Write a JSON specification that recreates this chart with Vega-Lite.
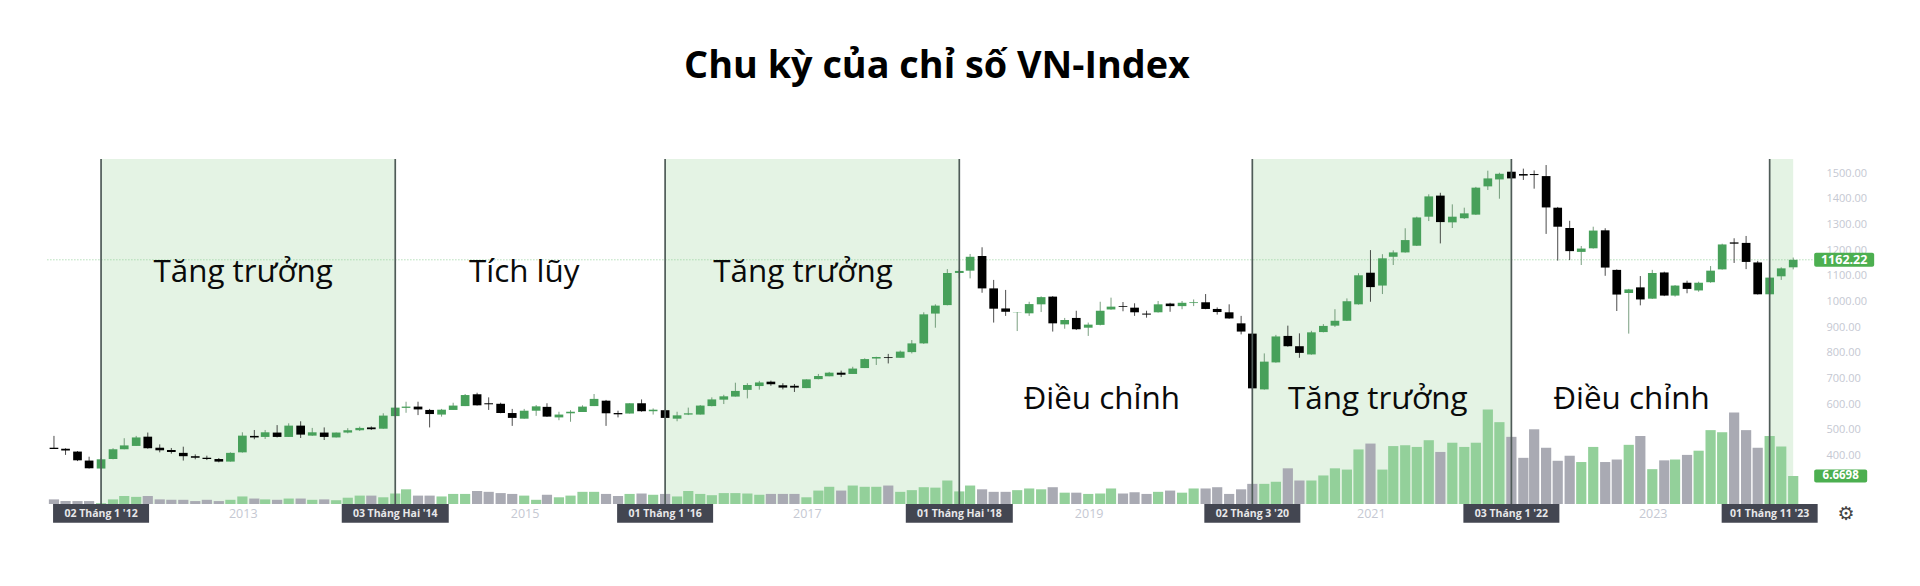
{
"$schema":"https://vega.github.io/schema/vega-lite/v6.json",
"width":1751.6,"height":345,
"autosize":{"type":"none"},
"padding":{"left":47.4,"top":159,"right":121,"bottom":82},
"background":"white",
"title":{"text":"Chu kỳ của chỉ số VN-Index","font":"Open Sans","fontWeight":"bold","fontSize":37.8,"color":"#000000","anchor":"middle","dx":13.8,"offset":72,"frame":"group"},
"config":{"view":{"stroke":null},"axisY":{"orient":"right","format":".2f","labelPadding":27,"labelAlign":"left","labelColor":"#c5c8d2","labelFont":"Open Sans","labelFontSize":11,"labelOverlap":false,"labelFlush":false,"domain":false,"ticks":false,"grid":false,"title":null}},
"datasets":{
"phases":[{"d":"2012-01-01","e":"2014-02-01"},{"d":"2016-01-01","e":"2018-02-01"},{"d":"2020-03-01","e":"2022-01-01"},{"d":"2023-11-01","e":"2024-01-01"}],
"events":[{"d":"2012-01-01","t":"02 Tháng 1 '12"},{"d":"2014-02-01","t":"03 Tháng Hai '14"},{"d":"2016-01-01","t":"01 Tháng 1 '16"},{"d":"2018-02-01","t":"01 Tháng Hai '18"},{"d":"2020-03-01","t":"02 Tháng 3 '20"},{"d":"2022-01-01","t":"03 Tháng 1 '22"},{"d":"2023-11-01","t":"01 Tháng 11 '23"}],
"notes":[{"d":"2013-01-03","p":1112,"t":"Tăng trưởng"},{"d":"2015-01-01","p":1112,"t":"Tích lũy"},{"d":"2016-12-23","p":1112,"t":"Tăng trưởng"},{"d":"2019-02-05","p":618,"t":"Điều chỉnh"},{"d":"2021-01-20","p":618,"t":"Tăng trưởng"},{"d":"2022-11-08","p":618,"t":"Điều chỉnh"}],
"candles":[
{"d":"2011-09-01","o":431,"h":477,"l":426,"c":426,"v":1.1},
{"d":"2011-10-01","o":427,"h":429,"l":403,"c":420,"v":0.7},
{"d":"2011-11-01","o":416,"h":418,"l":379,"c":382,"v":0.7},
{"d":"2011-12-01","o":381,"h":396,"l":350,"c":351,"v":0.7},
{"d":"2012-01-01","o":350,"h":390,"l":347,"c":386,"v":0.2},
{"d":"2012-02-01","o":387,"h":429,"l":386,"c":425,"v":1.1},
{"d":"2012-03-01","o":425,"h":468,"l":425,"c":440,"v":1.9},
{"d":"2012-04-01","o":438,"h":477,"l":438,"c":471,"v":1.7},
{"d":"2012-05-01","o":474,"h":490,"l":427,"c":429,"v":1.9},
{"d":"2012-06-01","o":431,"h":444,"l":413,"c":421,"v":1.1},
{"d":"2012-07-01","o":422,"h":430,"l":408,"c":414,"v":1.0},
{"d":"2012-08-01","o":411,"h":435,"l":381,"c":398,"v":1.0},
{"d":"2012-09-01","o":398,"h":405,"l":386,"c":392,"v":0.7},
{"d":"2012-10-01","o":392,"h":400,"l":383,"c":387,"v":1.0},
{"d":"2012-11-01","o":387,"h":391,"l":374,"c":377,"v":0.7},
{"d":"2012-12-01","o":377,"h":413,"l":377,"c":411,"v":1.0},
{"d":"2013-01-01","o":413,"h":491,"l":412,"c":478,"v":1.8},
{"d":"2013-02-01","o":477,"h":500,"l":464,"c":471,"v":1.3},
{"d":"2013-03-01","o":473,"h":500,"l":465,"c":491,"v":1.1},
{"d":"2013-04-01","o":490,"h":519,"l":471,"c":473,"v":1.0},
{"d":"2013-05-01","o":473,"h":526,"l":473,"c":517,"v":1.3},
{"d":"2013-06-01","o":517,"h":534,"l":469,"c":482,"v":1.3},
{"d":"2013-07-01","o":478,"h":508,"l":477,"c":491,"v":1.0},
{"d":"2013-08-01","o":490,"h":510,"l":461,"c":473,"v":1.1},
{"d":"2013-09-01","o":471,"h":490,"l":471,"c":490,"v":0.9},
{"d":"2013-10-01","o":490,"h":507,"l":487,"c":499,"v":1.5},
{"d":"2013-11-01","o":499,"h":513,"l":496,"c":508,"v":2.0},
{"d":"2013-12-01","o":510,"h":514,"l":500,"c":503,"v":2.0},
{"d":"2014-01-01","o":505,"h":565,"l":505,"c":556,"v":1.6},
{"d":"2014-02-01","o":554,"h":591,"l":552,"c":587,"v":2.5},
{"d":"2014-03-01","o":586,"h":610,"l":567,"c":591,"v":3.5},
{"d":"2014-04-01","o":591,"h":610,"l":558,"c":580,"v":2.0},
{"d":"2014-05-01","o":578,"h":582,"l":510,"c":562,"v":2.0},
{"d":"2014-06-01","o":560,"h":582,"l":552,"c":579,"v":1.8},
{"d":"2014-07-01","o":578,"h":606,"l":578,"c":595,"v":2.4},
{"d":"2014-08-01","o":593,"h":640,"l":593,"c":636,"v":2.4},
{"d":"2014-09-01","o":639,"h":645,"l":595,"c":596,"v":3.1},
{"d":"2014-10-01","o":604,"h":627,"l":578,"c":600,"v":2.9},
{"d":"2014-11-01","o":602,"h":606,"l":565,"c":566,"v":2.6},
{"d":"2014-12-01","o":566,"h":582,"l":516,"c":547,"v":2.4},
{"d":"2015-01-01","o":544,"h":582,"l":544,"c":575,"v":2.0},
{"d":"2015-02-01","o":575,"h":597,"l":555,"c":592,"v":1.0},
{"d":"2015-03-01","o":590,"h":604,"l":551,"c":552,"v":2.2},
{"d":"2015-04-01","o":549,"h":571,"l":538,"c":560,"v":1.6},
{"d":"2015-05-01","o":565,"h":577,"l":532,"c":571,"v":2.0},
{"d":"2015-06-01","o":570,"h":596,"l":570,"c":591,"v":2.9},
{"d":"2015-07-01","o":593,"h":640,"l":593,"c":621,"v":2.9},
{"d":"2015-08-01","o":614,"h":617,"l":516,"c":565,"v":2.4},
{"d":"2015-09-01","o":566,"h":575,"l":549,"c":561,"v":1.9},
{"d":"2015-10-01","o":564,"h":604,"l":564,"c":604,"v":2.4},
{"d":"2015-11-01","o":604,"h":619,"l":571,"c":573,"v":2.5},
{"d":"2015-12-01","o":573,"h":584,"l":560,"c":579,"v":2.2},
{"d":"2016-01-01","o":577,"h":579,"l":545,"c":547,"v":2.4},
{"d":"2016-02-01","o":544,"h":571,"l":534,"c":557,"v":1.8},
{"d":"2016-03-01","o":560,"h":587,"l":558,"c":565,"v":3.1},
{"d":"2016-04-01","o":560,"h":597,"l":560,"c":595,"v":2.4},
{"d":"2016-05-01","o":593,"h":627,"l":592,"c":619,"v":2.1},
{"d":"2016-06-01","o":618,"h":637,"l":601,"c":631,"v":2.6},
{"d":"2016-07-01","o":630,"h":684,"l":630,"c":652,"v":2.6},
{"d":"2016-08-01","o":656,"h":682,"l":623,"c":675,"v":2.5},
{"d":"2016-09-01","o":671,"h":691,"l":657,"c":685,"v":2.2},
{"d":"2016-10-01","o":688,"h":692,"l":672,"c":678,"v":2.4},
{"d":"2016-11-01","o":674,"h":682,"l":658,"c":665,"v":2.4},
{"d":"2016-12-01","o":672,"h":679,"l":648,"c":665,"v":2.4},
{"d":"2017-01-01","o":663,"h":697,"l":663,"c":697,"v":1.6},
{"d":"2017-02-01","o":698,"h":718,"l":697,"c":710,"v":3.2},
{"d":"2017-03-01","o":709,"h":726,"l":709,"c":723,"v":4.1},
{"d":"2017-04-01","o":723,"h":731,"l":706,"c":715,"v":3.2},
{"d":"2017-05-01","o":718,"h":746,"l":718,"c":739,"v":4.4},
{"d":"2017-06-01","o":741,"h":779,"l":741,"c":776,"v":4.1},
{"d":"2017-07-01","o":778,"h":785,"l":753,"c":784,"v":4.1},
{"d":"2017-08-01","o":783,"h":796,"l":759,"c":780,"v":4.4},
{"d":"2017-09-01","o":781,"h":809,"l":781,"c":805,"v":2.9},
{"d":"2017-10-01","o":803,"h":850,"l":798,"c":837,"v":3.3},
{"d":"2017-11-01","o":837,"h":958,"l":835,"c":950,"v":4.0},
{"d":"2017-12-01","o":953,"h":989,"l":898,"c":984,"v":3.9},
{"d":"2018-01-01","o":986,"h":1126,"l":985,"c":1111,"v":5.6},
{"d":"2018-02-01","o":1111,"h":1125,"l":1090,"c":1119,"v":3.0},
{"d":"2018-03-01","o":1120,"h":1185,"l":1090,"c":1174,"v":4.4},
{"d":"2018-04-01","o":1177,"h":1211,"l":1034,"c":1051,"v":3.5},
{"d":"2018-05-01","o":1051,"h":1084,"l":918,"c":972,"v":2.9},
{"d":"2018-06-01","o":973,"h":1045,"l":944,"c":960,"v":2.9},
{"d":"2018-07-01","o":957,"h":959,"l":885,"c":958,"v":3.3},
{"d":"2018-08-01","o":954,"h":999,"l":944,"c":990,"v":3.7},
{"d":"2018-09-01","o":989,"h":1020,"l":959,"c":1017,"v":3.5},
{"d":"2018-10-01","o":1019,"h":1021,"l":883,"c":915,"v":4.0},
{"d":"2018-11-01","o":911,"h":936,"l":894,"c":928,"v":2.7},
{"d":"2018-12-01","o":936,"h":964,"l":889,"c":892,"v":2.7},
{"d":"2019-01-01","o":898,"h":918,"l":866,"c":910,"v":2.4},
{"d":"2019-02-01","o":909,"h":999,"l":907,"c":964,"v":2.5},
{"d":"2019-03-01","o":969,"h":1015,"l":968,"c":980,"v":3.7},
{"d":"2019-04-01","o":982,"h":998,"l":962,"c":979,"v":2.5},
{"d":"2019-05-01","o":976,"h":993,"l":944,"c":958,"v":2.8},
{"d":"2019-06-01","o":953,"h":964,"l":937,"c":949,"v":2.4},
{"d":"2019-07-01","o":958,"h":1002,"l":957,"c":989,"v":2.9},
{"d":"2019-08-01","o":992,"h":995,"l":960,"c":982,"v":3.2},
{"d":"2019-09-01","o":982,"h":1002,"l":970,"c":995,"v":2.7},
{"d":"2019-10-01","o":994,"h":1008,"l":982,"c":997,"v":3.7},
{"d":"2019-11-01","o":997,"h":1029,"l":970,"c":971,"v":3.7},
{"d":"2019-12-01","o":971,"h":977,"l":949,"c":959,"v":4.0},
{"d":"2020-01-01","o":958,"h":989,"l":933,"c":934,"v":2.4},
{"d":"2020-02-01","o":915,"h":944,"l":872,"c":883,"v":3.5},
{"d":"2020-03-01","o":875,"h":877,"l":659,"c":662,"v":4.8},
{"d":"2020-04-01","o":658,"h":798,"l":657,"c":766,"v":4.8},
{"d":"2020-05-01","o":763,"h":870,"l":762,"c":864,"v":5.3},
{"d":"2020-06-01","o":866,"h":906,"l":824,"c":826,"v":8.5},
{"d":"2020-07-01","o":826,"h":876,"l":781,"c":800,"v":5.6},
{"d":"2020-08-01","o":794,"h":886,"l":793,"c":880,"v":5.6},
{"d":"2020-09-01","o":881,"h":912,"l":880,"c":905,"v":6.8},
{"d":"2020-10-01","o":906,"h":970,"l":901,"c":925,"v":8.5},
{"d":"2020-11-01","o":925,"h":1012,"l":924,"c":1001,"v":8.2},
{"d":"2020-12-01","o":989,"h":1110,"l":988,"c":1102,"v":13.0},
{"d":"2021-01-01","o":1112,"h":1200,"l":999,"c":1056,"v":14.4},
{"d":"2021-02-01","o":1062,"h":1184,"l":1029,"c":1168,"v":8.2},
{"d":"2021-03-01","o":1174,"h":1199,"l":1142,"c":1191,"v":13.8},
{"d":"2021-04-01","o":1191,"h":1285,"l":1190,"c":1239,"v":14.0},
{"d":"2021-05-01","o":1217,"h":1330,"l":1216,"c":1327,"v":13.6},
{"d":"2021-06-01","o":1330,"h":1417,"l":1313,"c":1409,"v":15.2},
{"d":"2021-07-01","o":1412,"h":1423,"l":1226,"c":1309,"v":12.4},
{"d":"2021-08-01","o":1308,"h":1378,"l":1286,"c":1330,"v":14.6},
{"d":"2021-09-01","o":1324,"h":1365,"l":1321,"c":1343,"v":13.6},
{"d":"2021-10-01","o":1338,"h":1446,"l":1337,"c":1443,"v":14.6},
{"d":"2021-11-01","o":1448,"h":1509,"l":1434,"c":1479,"v":22.5},
{"d":"2021-12-01","o":1475,"h":1501,"l":1400,"c":1497,"v":19.5},
{"d":"2022-01-01","o":1505,"h":1508,"l":1477,"c":1479,"v":16.0},
{"d":"2022-02-01","o":1496,"h":1517,"l":1473,"c":1490,"v":11.0},
{"d":"2022-03-01","o":1496,"h":1510,"l":1439,"c":1492,"v":17.8},
{"d":"2022-04-01","o":1488,"h":1531,"l":1263,"c":1366,"v":13.4},
{"d":"2022-05-01","o":1365,"h":1368,"l":1159,"c":1291,"v":10.3},
{"d":"2022-06-01","o":1286,"h":1314,"l":1161,"c":1196,"v":11.5},
{"d":"2022-07-01","o":1193,"h":1216,"l":1142,"c":1206,"v":10.0},
{"d":"2022-08-01","o":1207,"h":1291,"l":1206,"c":1276,"v":13.6},
{"d":"2022-09-01","o":1277,"h":1285,"l":1100,"c":1132,"v":10.0},
{"d":"2022-10-01","o":1123,"h":1125,"l":963,"c":1027,"v":10.6},
{"d":"2022-11-01","o":1033,"h":1049,"l":875,"c":1047,"v":14.1},
{"d":"2022-12-01","o":1055,"h":1099,"l":985,"c":1008,"v":16.2},
{"d":"2023-01-01","o":1011,"h":1123,"l":1010,"c":1111,"v":8.3},
{"d":"2023-02-01","o":1113,"h":1116,"l":1021,"c":1023,"v":10.4},
{"d":"2023-03-01","o":1023,"h":1064,"l":1019,"c":1062,"v":10.6},
{"d":"2023-04-01","o":1073,"h":1081,"l":1032,"c":1049,"v":11.7},
{"d":"2023-05-01","o":1043,"h":1077,"l":1038,"c":1073,"v":12.7},
{"d":"2023-06-01","o":1075,"h":1138,"l":1073,"c":1120,"v":17.6},
{"d":"2023-07-01","o":1125,"h":1225,"l":1124,"c":1222,"v":17.1},
{"d":"2023-08-01","o":1230,"h":1246,"l":1150,"c":1225,"v":21.8},
{"d":"2023-09-01","o":1228,"h":1255,"l":1126,"c":1154,"v":17.6},
{"d":"2023-10-01","o":1152,"h":1158,"l":1027,"c":1028,"v":13.4},
{"d":"2023-11-01","o":1028,"h":1095,"l":1025,"c":1093,"v":16.2},
{"d":"2023-12-01","o":1098,"h":1133,"l":1084,"c":1129,"v":13.7},
{"d":"2024-01-01","o":1133,"h":1171,"l":1125,"c":1162.22,"v":6.67}
]},
"encoding":{"x":{"field":"d","type":"temporal","title":null,"scale":{"domain":[{"year":2011,"month":8,"date":15},{"year":2024,"month":1,"date":16}],"nice":false,"padding":0},"axis":{"values":[{"year":2013,"month":1,"date":2},{"year":2015,"month":1,"date":2},{"year":2017,"month":1,"date":2},{"year":2019,"month":1,"date":2},{"year":2021,"month":1,"date":2},{"year":2023,"month":1,"date":2}],"format":"%Y","labelColor":"#c5c8d2","labelFont":"Open Sans","labelFontSize":12.5,"labelPadding":3,"labelFlush":false,"domain":false,"ticks":false,"grid":false,"title":null}}},
"layer":[
{"data":{"name":"phases"},"mark":{"type":"rect","color":"#e4f3e4"},"encoding":{"x2":{"field":"e"}}},
{"layer":[
{"data":{"name":"candles"},"mark":{"type":"bar","size":10.2},"encoding":{"y":{"field":"v","type":"quantitative","title":null,"axis":null,"scale":{"domain":[0,82.2],"nice":false,"zero":false}},"color":{"condition":{"test":"datum.c>=datum.o","value":"#93d09a"},"value":"#a9aab3"}}},
{"data":{"values":[{"v":8.2,"v2":5.1,"d":"2024-05-03","t":"6.6698"}]},"mark":{"type":"bar","size":53,"color":"#4caf50","cornerRadius":2},"encoding":{"y":{"field":"v","type":"quantitative","axis":null},"y2":{"field":"v2"}}},
{"data":{"values":[{"v":6.65,"d":"2024-05-03","t":"6.6698"}]},"mark":{"type":"text","color":"#ffffff","font":"Open Sans","fontWeight":"bold","fontSize":11.5,"baseline":"middle"},"encoding":{"y":{"field":"v","type":"quantitative","axis":null},"text":{"field":"t"}}}
]},
{"layer":[
{"data":{"values":[{"d":"2011-08-15","e":"2024-02-25","p":1162.22}]},"mark":{"type":"rule","color":"#8fcf97","strokeDash":[1,2],"strokeWidth":1},"encoding":{"y":{"field":"p","type":"quantitative","title":null,"scale":{"domain":[212,1554.5],"nice":false,"zero":false},"axis":{"values":[400,500,600,700,800,900,1000,1100,1200,1300,1400,1500]}},"x2":{"field":"e"}}},
{"data":{"name":"candles"},"mark":{"type":"rule","strokeWidth":1,"opacity":0.75},"encoding":{"y":{"field":"l","type":"quantitative","axis":{"values":[400,500,600,700,800,900,1000,1100,1200,1300,1400,1500]}},"y2":{"field":"h"},"color":{"condition":{"test":"datum.c>=datum.o","value":"#4e7f57"},"value":"#111111"}}},
{"data":{"name":"candles"},"mark":{"type":"bar","size":8.7},"encoding":{"y":{"field":"o","type":"quantitative","axis":{"values":[400,500,600,700,800,900,1000,1100,1200,1300,1400,1500]}},"y2":{"field":"c"},"color":{"condition":{"test":"datum.c>=datum.o","value":"#47a05a"},"value":"#000000"}}},
{"data":{"name":"events"},"mark":{"type":"rule","color":"#4f5b58","strokeWidth":1.7},"encoding":{}},
{"data":{"name":"events"},"transform":[{"filter":"indexof(datum.t,'Hai')<0"}],"mark":{"type":"bar","size":96,"color":"#434651"},"encoding":{"y":{"datum":212,"axis":{"values":[400,500,600,700,800,900,1000,1100,1200,1300,1400,1500]}},"y2":{"datum":139}}},
{"data":{"name":"events"},"transform":[{"filter":"indexof(datum.t,'Hai')>=0"}],"mark":{"type":"bar","size":107,"color":"#434651"},"encoding":{"y":{"datum":212,"axis":{"values":[400,500,600,700,800,900,1000,1100,1200,1300,1400,1500]}},"y2":{"datum":139}}},
{"data":{"name":"events"},"mark":{"type":"text","color":"#e8e8ea","font":"Open Sans","fontWeight":"bold","fontSize":10.5,"baseline":"middle"},"encoding":{"y":{"datum":175,"axis":{"values":[400,500,600,700,800,900,1000,1100,1200,1300,1400,1500]}},"text":{"field":"t"}}},
{"data":{"name":"notes"},"mark":{"type":"text","color":"#0a0a0a","font":"Open Sans","fontSize":31.4,"baseline":"middle"},"encoding":{"y":{"field":"p","type":"quantitative","axis":{"values":[400,500,600,700,800,900,1000,1100,1200,1300,1400,1500]}},"text":{"field":"t"}}},
{"data":{"values":[{"d":"2024-05-12","p":1189.5,"p2":1135,"t":"1162.22"}]},"mark":{"type":"bar","size":60,"color":"#4caf50","cornerRadius":2},"encoding":{"y":{"field":"p","type":"quantitative","axis":{"values":[400,500,600,700,800,900,1000,1100,1200,1300,1400,1500]}},"y2":{"field":"p2"}}},
{"data":{"values":[{"d":"2024-05-12","p":1162.22,"t":"1162.22"}]},"mark":{"type":"text","color":"#ffffff","font":"Open Sans","fontWeight":"bold","fontSize":12.5,"baseline":"middle"},"encoding":{"y":{"field":"p","type":"quantitative","axis":{"values":[400,500,600,700,800,900,1000,1100,1200,1300,1400,1500]}},"text":{"field":"t"}}},
{"data":{"values":[{"d":"2024-05-17","t":"⚙"}]},"mark":{"type":"text","color":"#444444","font":"DejaVu Sans","fontSize":19,"baseline":"middle"},"encoding":{"y":{"datum":175,"axis":{"values":[400,500,600,700,800,900,1000,1100,1200,1300,1400,1500]}},"text":{"field":"t"}}}
]}
],
"resolve":{"scale":{"y":"independent"}}
}
